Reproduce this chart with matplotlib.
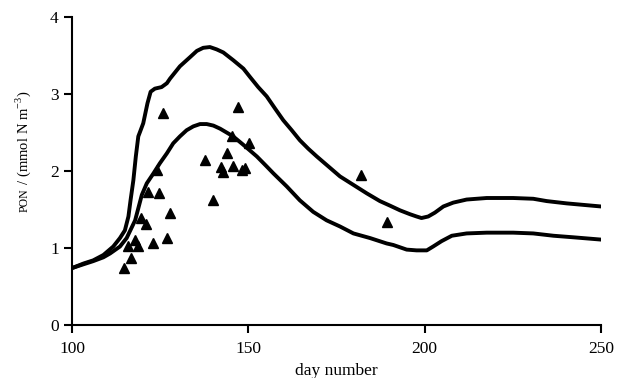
import matplotlib.pyplot as plt

plt.rcParams['font.family'] = 'Liberation Serif'
plt.rcParams['mathtext.fontset'] = 'custom'
plt.rcParams['mathtext.rm'] = 'Liberation Serif'

# model curves (upper / lower)
upper_day = [100, 103.3, 106, 108.9, 111.7, 113.6, 115.0, 116.0, 116.6, 117.4, 118.1,
             118.8, 119.3, 120.2, 121.4, 122.3, 123.5, 125.4, 126.9, 127.8, 130.6,
             133.5, 135.4, 137.2, 139.1, 141.0, 142.9, 145.7, 148.6, 150.5, 152.8,
             155.2, 157.6, 159.9, 162.3, 164.6, 167.0, 169.4, 172.7, 176.0, 179.8,
             183.6, 187.3, 190.2, 193.0, 195.8, 197.7, 199.1, 201.0, 202.9, 205.3,
             208.1, 211.9, 217.6, 225.1, 230.8, 234.6, 240.3, 250]
upper_pon = [0.74, 0.80, 0.84, 0.91, 1.02, 1.13, 1.23, 1.41, 1.62, 1.88, 2.19,
             2.45, 2.51, 2.62, 2.88, 3.03, 3.07, 3.09, 3.14, 3.20, 3.36,
             3.48, 3.56, 3.60, 3.61, 3.58, 3.54, 3.44, 3.33, 3.22, 3.09,
             2.97, 2.81, 2.66, 2.53, 2.40, 2.29, 2.19, 2.06, 1.93, 1.82,
             1.71, 1.61, 1.55, 1.49, 1.44, 1.41, 1.39, 1.41, 1.46, 1.54,
             1.59, 1.63, 1.65, 1.65, 1.64, 1.61, 1.58, 1.54]

lower_day = [100, 103.3, 106, 108.9, 110.8, 113.6, 115.5, 117.9, 119.8, 121.2, 123.1,
             124.9, 126.9, 128.7, 130.6, 132.5, 134.4, 136.3, 138.2, 140.1, 142.0,
             145.7, 148.6, 152.4, 155.2, 157.1, 160.9, 164.6, 168.4, 172.2, 176.0,
             179.8, 184.5, 189.2, 191.1, 194.9, 197.7, 200.6, 202.4, 204.8, 207.7,
             211.9, 217.6, 225.1, 230.8, 236.5, 242.1, 250]
lower_pon = [0.74, 0.79, 0.83, 0.88, 0.93, 1.02, 1.13, 1.36, 1.69, 1.84, 1.97,
             2.10, 2.23, 2.36, 2.45, 2.53, 2.58, 2.61, 2.61, 2.59, 2.55,
             2.45, 2.34, 2.19, 2.06, 1.97, 1.80, 1.62, 1.47, 1.36, 1.28,
             1.19, 1.13, 1.06, 1.04, 0.98, 0.97, 0.97, 1.02, 1.09, 1.16,
             1.19, 1.20, 1.20, 1.19, 1.16, 1.14, 1.11]

# observations
obs_day = [125.9, 147.0, 137.7, 143.9, 145.3, 150.3, 142.2, 142.9, 145.7, 148.1,
           149.1, 140.1, 124.0, 121.6, 124.8, 127.8, 119.6, 120.9, 127.0, 122.9,
           117.9, 116.0, 118.8, 116.7, 114.7, 181.9, 189.2]
obs_pon = [2.75, 2.83, 2.14, 2.23, 2.45, 2.36, 2.05, 1.99, 2.06, 2.02,
           2.04, 1.62, 2.01, 1.73, 1.71, 1.46, 1.39, 1.31, 1.13, 1.07,
           1.10, 1.03, 1.03, 0.87, 0.74, 1.95, 1.34]

fig = plt.figure(figsize=(6.18, 3.78), dpi=100)
ax = fig.add_axes([0.1165, 0.140, 0.856, 0.815])

ax.plot(upper_day, upper_pon, color='black', linewidth=2.8,
        solid_joinstyle='round', solid_capstyle='round')
ax.plot(lower_day, lower_pon, color='black', linewidth=2.8,
        solid_joinstyle='round', solid_capstyle='round')
ax.plot(obs_day, obs_pon, '^', color='black', markersize=7, clip_on=False)

ax.set_xlim(100, 250)
ax.set_ylim(0, 4)
ax.set_xticks([100, 150, 200, 250])
ax.set_yticks([0, 1, 2, 3, 4])
ax.spines['top'].set_visible(False)
ax.spines['right'].set_visible(False)
for s in ['left', 'bottom']:
    ax.spines[s].set_linewidth(1.5)
ax.tick_params(direction='out', length=6, width=1.5, labelsize=12.5)
ax.tick_params(axis='x', pad=5.5)
ax.tick_params(axis='y', pad=3.5)

ax.set_xlabel('day number', fontsize=12.5, labelpad=4)

# y label: small-caps "PON" followed by the unit
fig.canvas.draw()
renderer = fig.canvas.get_renderer()
x_base = 27.5 / 618
y_start = 166 / 378
t1 = fig.text(x_base, y_start, 'PON', fontsize=8.5, rotation=90,
              rotation_mode='anchor', ha='left', va='baseline')
h1 = t1.get_window_extent(renderer).height / fig.bbox.height
fig.text(x_base, y_start + h1, ' / (mmol N m$^{-3}$)', fontsize=10.5, rotation=90,
         rotation_mode='anchor', ha='left', va='baseline')

fig.savefig('out.png', dpi=100)
